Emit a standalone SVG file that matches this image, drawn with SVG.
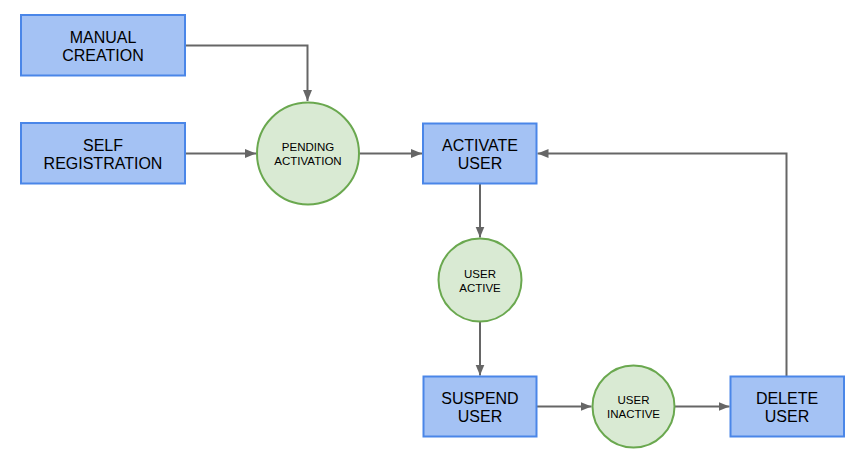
<svg xmlns="http://www.w3.org/2000/svg" width="863" height="465" viewBox="0 0 863 465">
<style>
.box{fill:#a4c2f4;stroke:#4a86e8;stroke-width:2}
.st{fill:#d9ead3;stroke:#6aa84f;stroke-width:2}
.bt{font-family:"Liberation Sans",Arial,sans-serif;font-size:16px;fill:#000;text-anchor:middle}
.ct{font-family:"Liberation Sans",Arial,sans-serif;font-size:11.5px;fill:#000;text-anchor:middle}
.ln{fill:none;stroke:#666;stroke-width:2;marker-end:url(#ah)}
</style>
<defs>
<marker id="ah" markerWidth="12" markerHeight="10" refX="11" refY="4.5" orient="auto" markerUnits="userSpaceOnUse">
<path d="M0,0 L11,4.5 L0,9 Z" fill="#666"/>
</marker>
</defs>
<rect width="863" height="465" fill="#fff"/>
<g id="connectors">
<path class="ln" d="M185,45.5 H307.5 V101"/>
<path class="ln" d="M185,153.5 H256"/>
<path class="ln" d="M360,153.5 H422"/>
<path class="ln" d="M480,183.5 V237.5"/>
<path class="ln" d="M480,321.5 V375.5"/>
<path class="ln" d="M537,406.5 H591.5"/>
<path class="ln" d="M674.5,406.5 H729.5"/>
<path class="ln" d="M786.5,376 V153.5 H537.5"/>
</g>
<g id="manual-creation">
<rect class="box" x="21" y="15" width="164" height="60.5"/>
<text class="bt" x="103" y="42.5">MANUAL</text>
<text class="bt" x="103" y="61">CREATION</text>
</g>
<g id="self-registration">
<rect class="box" x="21" y="123" width="164" height="60.5"/>
<text class="bt" x="103" y="150.5">SELF</text>
<text class="bt" x="103" y="169">REGISTRATION</text>
</g>
<g id="pending-activation">
<circle class="st" cx="308" cy="153.5" r="51"/>
<text class="ct" x="308" y="151">PENDING</text>
<text class="ct" x="308" y="164.5">ACTIVATION</text>
</g>
<g id="activate-user">
<rect class="box" x="423" y="123.5" width="113.5" height="60"/>
<text class="bt" x="480" y="150.5">ACTIVATE</text>
<text class="bt" x="480" y="169">USER</text>
</g>
<g id="user-active">
<circle class="st" cx="480" cy="280" r="41.5"/>
<text class="ct" x="480" y="277.5">USER</text>
<text class="ct" x="480" y="291.5">ACTIVE</text>
</g>
<g id="suspend-user">
<rect class="box" x="423.5" y="376.5" width="113" height="60"/>
<text class="bt" x="480" y="403.5">SUSPEND</text>
<text class="bt" x="480" y="422">USER</text>
</g>
<g id="user-inactive">
<circle class="st" cx="633.5" cy="406.5" r="41"/>
<text class="ct" x="633.5" y="404">USER</text>
<text class="ct" x="633.5" y="418">INACTIVE</text>
</g>
<g id="delete-user">
<rect class="box" x="730.5" y="376.5" width="113.5" height="60"/>
<text class="bt" x="787" y="403.5">DELETE</text>
<text class="bt" x="787" y="422">USER</text>
</g>
</svg>
